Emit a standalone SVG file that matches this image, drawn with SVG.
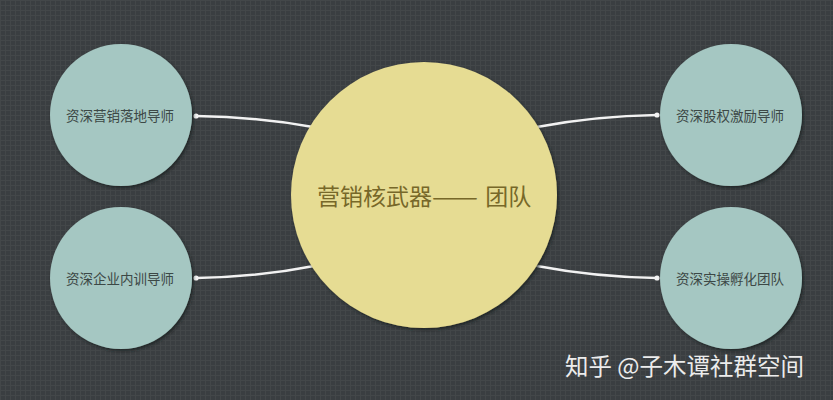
<svg xmlns="http://www.w3.org/2000/svg" width="833" height="400" viewBox="0 0 833 400">
<defs>
<pattern id="grid" width="5" height="5" patternUnits="userSpaceOnUse">
<rect width="5" height="5" fill="#3a3e41"/>
<path d="M0 0.5H5M0.5 0V5" stroke="#434749" stroke-width="1"/>
</pattern>
<filter id="sh" x="-20%" y="-20%" width="140%" height="140%">
<feDropShadow dx="1.5" dy="2" stdDeviation="1.5" flood-color="#1e2224" flood-opacity="0.8"/>
</filter>
<marker id="dot" markerWidth="6" markerHeight="6" refX="3" refY="3" markerUnits="userSpaceOnUse">
<circle cx="3" cy="3" r="2.6" fill="#f4f4f4"/>
</marker>
</defs>
<style>
.side{fill:#a5c7c2;filter:url(#sh)}
.hub{fill:#e6dc93;filter:url(#sh)}
.lbl{font-family:"Noto Sans CJK SC","Noto Sans",sans-serif;font-size:13.5px;fill:#3c4846;text-anchor:middle;dominant-baseline:central}
.conn{fill:none;stroke:#f2f2f2;stroke-width:2.5;stroke-linecap:round}
</style>
<rect width="833" height="400" fill="url(#grid)"/>
<g id="connectors">
<path class="conn" d="M196 116 Q258 117 313 127" marker-start="url(#dot)"/>
<path class="conn" d="M196 278 Q258 277 314 266" marker-start="url(#dot)"/>
<path class="conn" d="M657 115 Q595 116 537 127" marker-start="url(#dot)"/>
<path class="conn" d="M657 278 Q595 277 537 266" marker-start="url(#dot)"/>
</g>
<g id="hub">
<circle class="hub" cx="424" cy="195" r="133"/>
<text y="195" font-family="'Noto Sans CJK SC',serif" font-size="23" fill="#776829" dominant-baseline="central"><tspan x="317">营销核武器</tspan><tspan x="432" textLength="46" lengthAdjust="spacingAndGlyphs">——</tspan><tspan x="480"> 团队</tspan></text>
</g>
<g id="n1">
<circle class="side" cx="121" cy="115" r="71"/>
<text class="lbl" x="120" y="115">资深营销落地导师</text>
</g>
<g id="n2">
<circle class="side" cx="121" cy="278" r="71"/>
<text class="lbl" x="120" y="278">资深企业内训导师</text>
</g>
<g id="n3">
<circle class="side" cx="731" cy="115" r="71"/>
<text class="lbl" x="730" y="115">资深股权激励导师</text>
</g>
<g id="n4">
<circle class="side" cx="731" cy="278" r="71"/>
<text class="lbl" x="730" y="278">资深实操孵化团队</text>
</g>
<text x="565" y="365" font-family="'Noto Sans CJK SC',sans-serif" font-size="23.5" fill="#ececec" dominant-baseline="central">知乎 @子木谭社群空间</text>
</svg>
